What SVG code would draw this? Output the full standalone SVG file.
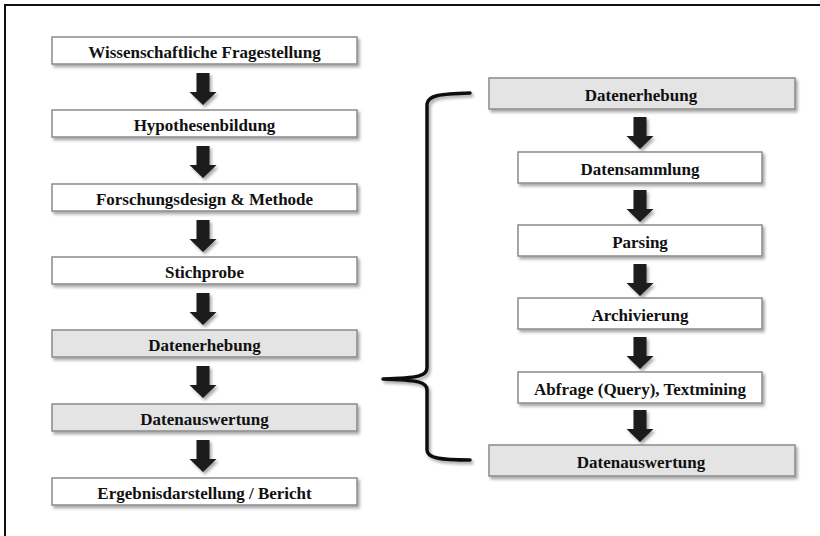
<svg xmlns="http://www.w3.org/2000/svg" xmlns:xlink="http://www.w3.org/1999/xlink" width="820" height="536" viewBox="0 0 820 536">
<style>
  .box { stroke: #8a8a8a; stroke-width: 1.5; filter: url(#sh); }
  .w { fill: #ffffff; }
  .g { fill: #e4e4e4; }
  .t { font-family: "Liberation Serif", "Times New Roman", serif; font-weight: bold; font-size: 17px; fill: #111; text-anchor: middle; }
  .arr { fill: #1a1a1a; filter: url(#sh); }
  .brace { fill: none; stroke: #111; stroke-width: 3.5; stroke-linecap: round; stroke-linejoin: round; filter: url(#sh); }
</style>
<defs>
  <filter id="sh" x="-10%" y="-30%" width="130%" height="180%">
    <feDropShadow dx="2" dy="2.5" stdDeviation="1.6" flood-color="#000" flood-opacity="0.35"/>
  </filter>
  <path id="arrow" d="M-6.5,0 H6.5 V19 H13.5 L0,32 L-13.5,19 H-6.5 Z"/>
</defs>
<rect width="820" height="536" fill="#fff"/>
<path d="M5,536 V5 H820" fill="none" stroke="#111" stroke-width="2"/>

<g id="connectors">
  <use xlink:href="#arrow" class="arr" x="203" y="73"/>
  <use xlink:href="#arrow" class="arr" x="203" y="146"/>
  <use xlink:href="#arrow" class="arr" x="203" y="220"/>
  <use xlink:href="#arrow" class="arr" x="203" y="293"/>
  <use xlink:href="#arrow" class="arr" x="203" y="366"/>
  <use xlink:href="#arrow" class="arr" x="203" y="440"/>
  <use xlink:href="#arrow" class="arr" x="640" y="117"/>
  <use xlink:href="#arrow" class="arr" x="640" y="190"/>
  <use xlink:href="#arrow" class="arr" x="640" y="264"/>
  <use xlink:href="#arrow" class="arr" x="640" y="337"/>
  <use xlink:href="#arrow" class="arr" x="640" y="410"/>
  <path class="brace" d="M470,93 C440,94 428,95 427,104 V368 C427,376 418,378 383,379 C418,380 427,382 427,390 V450 C427,458 440,460 470,460"/>
</g>

<g id="n1"><rect class="box w" x="52" y="37" width="305" height="27"/><text class="t" x="204.5" y="58">Wissenschaftliche Fragestellung</text></g>
<g id="n2"><rect class="box w" x="52" y="110" width="305" height="27"/><text class="t" x="204.5" y="131">Hypothesenbildung</text></g>
<g id="n3"><rect class="box w" x="52" y="184" width="305" height="27"/><text class="t" x="204.5" y="205">Forschungsdesign &amp; Methode</text></g>
<g id="n4"><rect class="box w" x="52" y="257" width="305" height="27"/><text class="t" x="204.5" y="278">Stichprobe</text></g>
<g id="n5"><rect class="box g" x="52" y="330" width="305" height="27"/><text class="t" x="204.5" y="351">Datenerhebung</text></g>
<g id="n6"><rect class="box g" x="52" y="404" width="305" height="27"/><text class="t" x="204.5" y="425">Datenauswertung</text></g>
<g id="n7"><rect class="box w" x="52" y="478" width="305" height="27"/><text class="t" x="204.5" y="499">Ergebnisdarstellung / Bericht</text></g>

<g id="r1"><rect class="box g" x="489" y="78" width="306" height="31"/><text class="t" x="641" y="101">Datenerhebung</text></g>
<g id="r2"><rect class="box w" x="518" y="152" width="244" height="31"/><text class="t" x="640" y="175">Datensammlung</text></g>
<g id="r3"><rect class="box w" x="518" y="225" width="244" height="31"/><text class="t" x="640" y="248">Parsing</text></g>
<g id="r4"><rect class="box w" x="518" y="298" width="244" height="31"/><text class="t" x="640" y="321">Archivierung</text></g>
<g id="r5"><rect class="box w" x="518" y="372" width="244" height="31"/><text class="t" x="640" y="395">Abfrage (Query), Textmining</text></g>
<g id="r6"><rect class="box g" x="489" y="445" width="306" height="31"/><text class="t" x="641" y="468">Datenauswertung</text></g>
</svg>
